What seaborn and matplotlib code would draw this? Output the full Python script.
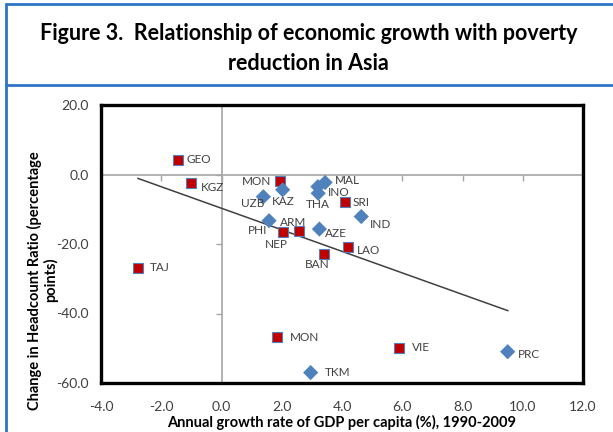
import matplotlib
matplotlib.use("Agg")
import matplotlib.pyplot as plt
import seaborn as sns
import pandas as pd
from matplotlib.lines import Line2D

# ---- data ----
countries = ["GEO", "KGZ", "TAJ", "MON", "NEP", "ARM", "SRI", "LAO", "BAN", "MON", "VIE",
             "KAZ", "UZB", "PHI", "MAL", "INO", "THA", "IND", "AZE", "PRC", "TKM"]
growth = [-1.45, -1.0, -2.77, 1.94, 2.05, 2.58, 4.1, 4.2, 3.4, 1.85, 5.9,
          2.03, 1.39, 1.58, 3.44, 3.2, 3.21, 4.64, 3.25, 9.5, 2.96]
change = [4.2, -2.4, -26.8, -2.0, -16.6, -16.3, -8.0, -20.9, -22.8, -46.9, -49.8,
          -4.4, -6.4, -13.3, -2.3, -3.5, -5.4, -12.1, -15.7, -51.0, -57.0]
group = ["sq"] * 11 + ["dm"] * 10
trend_x = [-2.78, 9.51]
trend_y = [-1.1, -39.2]
xticks = [-4.0, -2.0, 0.0, 2.0, 4.0, 6.0, 8.0, 10.0, 12.0]
yticks = [-60.0, -40.0, -20.0, 0.0, 20.0]

# label offsets in pixels (dx right, dy down), horizontal alignment
label_pos = [(9, 0, "left"), (9, 5, "left"), (12, 0, "left"), (-9, 0, "right"),
             (-7, 12, "center"), (-6, -9, "center"), (8, 0, "left"), (9, 3, "left"),
             (-7, 11, "center"), (13, 0, "left"), (13, 0, "left"),
             (1, 12, "center"), (-11, 7, "center"), (-12, 10, "center"), (10, -2, "left"),
             (10, 6, "left"), (0, 11, "center"), (9, 8, "left"), (6, 4, "left"),
             (10, 3, "left"), (14, 0, "left")]

df = pd.DataFrame({"country": countries, "growth": growth, "change": change, "group": group})
tr = pd.DataFrame({"x": trend_x, "y": trend_y})

sns.set_theme(style="white")
plt.rcParams["font.family"] = ["Lato", "DejaVu Sans"]

W, H = 613, 432
fig = plt.figure(figsize=(W / 100, H / 100), dpi=100)
ax = fig.add_axes([101 / W, 1 - 383 / H, (583 - 101) / W, (383 - 105) / H])

gray_axis = "#A6A6A6"
ax.axhline(0, color=gray_axis, lw=1.2, zorder=1)
ax.axvline(0, color=gray_axis, lw=1.2, zorder=1)
ax.plot(xticks, [0] * len(xticks), ls="none", marker=3, ms=4, mew=1, color=gray_axis, zorder=1)
ax.plot([0] * len(yticks), yticks, ls="none", marker=0, ms=4, mew=1, color=gray_axis, zorder=1)

sns.lineplot(data=tr, x="x", y="y", color="#404040", lw=1.1, ax=ax, zorder=2)

sq = df[df.group == "sq"]
dm = df[df.group == "dm"]
sns.scatterplot(data=sq, x="growth", y="change", marker="s", s=60, color="#C00000",
                edgecolor="#4F81BD", linewidth=0.8, ax=ax, zorder=3)
sns.scatterplot(data=dm, x="growth", y="change", marker="D", s=60, color="#4F81BD",
                edgecolor="none", ax=ax, zorder=3)

for (c, x, y), (dx, dy, ha) in zip(zip(countries, growth, change), label_pos):
    ax.annotate(c, (x, y), xytext=(dx * 0.72, -dy * 0.72), textcoords="offset points",
                ha=ha, va="center", fontsize=8.5, color="#404040", zorder=4)

ax.set_xlim(-4, 12)
ax.set_ylim(-60, 20)
ax.set_xticks(xticks)
ax.set_yticks(yticks)
ax.set_xticklabels([f"{v:.1f}" for v in xticks])
ax.set_yticklabels([f"{v:.1f}" for v in yticks])
ax.tick_params(length=0, labelsize=10, labelcolor="#404040")
ax.tick_params(axis="x", pad=13)
ax.tick_params(axis="y", pad=9)
for s in ax.spines.values():
    s.set_visible(True)
    s.set_color("black")
    s.set_linewidth(2.4)

ax.set_xlabel("Annual growth rate of GDP per capita (%), 1990-2009", fontsize=10.5,
              fontweight="bold", color="black", labelpad=1)
ax.set_ylabel("Change in Headcount Ratio (percentage\npoints)", fontsize=10.5,
              fontweight="bold", color="black", linespacing=1.1)
ax.yaxis.set_label_coords(-0.088, 0.37)

fig.text(0.5 + 2 / W, 1 - 33 / H, "Figure 3.  Relationship of economic growth with poverty",
         ha="center", va="center", fontsize=15.5, fontweight="bold", color="black")
fig.text(0.5 + 2 / W, 1 - 64 / H, "reduction in Asia",
         ha="center", va="center", fontsize=15.5, fontweight="bold", color="black")

blue = "#2E75C6"
fig.add_artist(Line2D([6 / W, 6 / W], [0, 1 - 4 / H], transform=fig.transFigure, color=blue, lw=2))
fig.add_artist(Line2D([6 / W, 1], [1 - 4 / H, 1 - 4 / H], transform=fig.transFigure, color=blue, lw=2))
fig.add_artist(Line2D([6 / W, 1], [1 - 85 / H, 1 - 85 / H], transform=fig.transFigure, color=blue, lw=2))

fig.savefig("out.png", dpi=100)
